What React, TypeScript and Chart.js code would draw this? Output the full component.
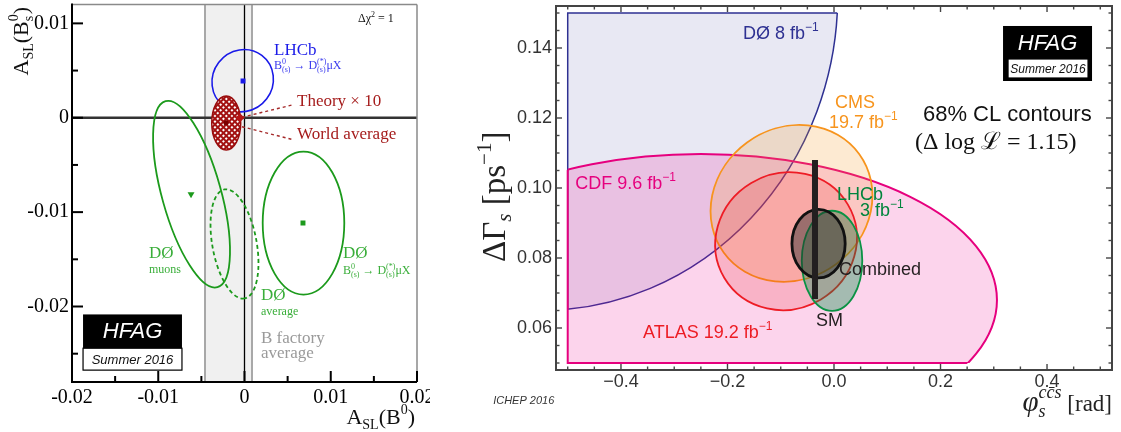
import React, { useEffect, useRef } from "react";
import { Chart, registerables } from "chart.js";

Chart.register(...registerables);

const SERIF = "'Liberation Serif', 'Times New Roman', 'DejaVu Serif', serif";
const SANS = "'Liberation Sans', Arial, Helvetica, sans-serif";

// ---------------- Left panel: A_SL(B0) vs A_SL(Bs) ----------------
const leftXTicks = [-0.02, -0.01, 0, 0.01, 0.02];
const leftXTickLabels = ["-0.02", "-0.01", "0", "0.01", "0.02"];
const leftXMinorTicks = [-0.015, -0.005, 0.005, 0.015];
const leftYTicks = [-0.02, -0.01, 0, 0.01];
const leftYTickLabels = ["-0.02", "-0.01", "0", "0.01"];
const leftYMinorTicks = [-0.025, -0.015, -0.005, 0.005];
const bFactoryBand = [-0.00458, 0.00087];
// contour: [centre x, centre y, half-extent x, half-extent y, correlation]
const lhcbLeftContour = [-0.00021, 0.00393, 0.00356, 0.0033, 0.05];
const d0MuonsContour = [-0.00614, -0.0081, 0.00446, 0.00989, -0.61];
const d0AverageContour = [-0.00116, -0.01337, 0.00278, 0.00579, -0.35];
const d0DmuxContour = [0.00684, -0.01116, 0.00473, 0.00758, 0];
const worldAverageContour = [-0.00212, -0.00055, 0.00168, 0.00286, 0];
const lhcbLeftCentral = [{ x: -0.00017, y: 0.0039 }];
const d0MuonsCentral = [{ x: -0.0062, y: -0.0081 }];
const d0DmuxCentral = [{ x: 0.00678, y: -0.01116 }];
const worldAverageCentral = [{ x: -0.00214, y: -0.00053 }];
const theoryPoint = [{ x: -0.00052, y: 0.0 }];
const theoryLeader = [{ x: -0.0003, y: 0.00005 }, { x: 0.00562, y: 0.00137 }];
const worldAvgLeader = [{ x: -0.0003, y: -0.00095 }, { x: 0.00562, y: -0.00232 }];

// ---------------- Right panel: phi_s vs DeltaGamma_s ----------------
const rightXTicks = [-0.4, -0.2, 0, 0.2, 0.4];
const rightXTickLabels = ["\u22120.4", "\u22120.2", "0.0", "0.2", "0.4"];
const rightXMinorTicks = [-0.5, -0.45, -0.35, -0.3, -0.25, -0.15, -0.1, -0.05, 0.05, 0.1, 0.15, 0.25, 0.3, 0.35, 0.45, 0.5];
const rightYTicks = [0.06, 0.08, 0.1, 0.12, 0.14];
const rightYTickLabels = ["0.06", "0.08", "0.10", "0.12", "0.14"];
const rightYMinorTicks = [0.05, 0.055, 0.065, 0.07, 0.075, 0.085, 0.09, 0.095, 0.105, 0.11, 0.115, 0.125, 0.13, 0.135, 0.145, 0.15];
const plotWindow = [-0.5, 0.5, 0.05, 0.15];
const d0Contour = [-0.55, 0.155, 0.557, 0.09, 0];
const cdfContour = [-0.25, 0.068, 0.556, 0.0417, 0];
const cmsContour = [-0.0798, 0.0956, 0.152, 0.0224, 0.1];
const atlasContour = [-0.09, 0.0848, 0.133, 0.0197, 0.05];
const lhcbContour = [-0.0037, 0.0792, 0.0568, 0.0143, 0];
const combinedContour = [-0.029, 0.0841, 0.05, 0.0098, 0];
const smPrediction = [{ x: -0.0357, y: 0.0683 }, { x: -0.0357, y: 0.108 }];

// ---------------- helpers ----------------
type Seg = { t: string; size: number; dy?: number; style?: string; family?: string; stack?: boolean };

function segFont(s: Seg, fam: string) {
  return `${s.style ?? ""} ${s.size}px ${s.family ?? fam}`.trim();
}
function richWidth(ctx: CanvasRenderingContext2D, segs: Seg[], fam: string) {
  let w = 0, prevStart = 0, prevW = 0;
  for (const s of segs) {
    ctx.font = segFont(s, fam);
    const sw = ctx.measureText(s.t).width;
    if (s.stack) {
      const adv = Math.max(prevW, sw);
      w = prevStart + adv;
      prevW = adv;
    } else {
      prevStart = w;
      prevW = sw;
      w += sw;
    }
  }
  return w;
}
function drawRich(ctx: CanvasRenderingContext2D, x: number, y: number, segs: Seg[], color: string, fam: string, align = "left") {
  const total = richWidth(ctx, segs, fam);
  const x0 = align === "right" ? x - total : align === "center" ? x - total / 2 : x;
  let w = 0, prevStart = 0, prevW = 0;
  ctx.fillStyle = color;
  ctx.textAlign = "left";
  ctx.textBaseline = "alphabetic";
  for (const s of segs) {
    ctx.font = segFont(s, fam);
    const sw = ctx.measureText(s.t).width;
    if (s.stack) {
      ctx.fillText(s.t, x0 + prevStart, y + (s.dy ?? 0));
      const adv = Math.max(prevW, sw);
      w = prevStart + adv;
      prevW = adv;
    } else {
      ctx.fillText(s.t, x0 + w, y + (s.dy ?? 0));
      prevStart = w;
      prevW = sw;
      w += sw;
    }
  }
}
function txt(ctx: CanvasRenderingContext2D, s: string, x: number, y: number, font: string, color: string, align: CanvasTextAlign = "left") {
  ctx.font = font;
  ctx.fillStyle = color;
  ctx.textAlign = align;
  ctx.textBaseline = "middle";
  ctx.fillText(s, x, y);
}
function seg(ctx: CanvasRenderingContext2D, x1: number, y1: number, x2: number, y2: number) {
  ctx.beginPath();
  ctx.moveTo(x1, y1);
  ctx.lineTo(x2, y2);
  ctx.stroke();
}
function ellipsePath(ctx: CanvasRenderingContext2D, chart: any, e: number[]) {
  const xs = chart.scales.x, ys = chart.scales.y;
  const [cx, cy, sx, sy, rho] = e;
  const px = xs.getPixelForValue(cx), py = ys.getPixelForValue(cy);
  const Sx = Math.abs(xs.getPixelForValue(cx + sx) - px);
  const Sy = Math.abs(ys.getPixelForValue(cy + sy) - py);
  const a = Sx * Sx, c = Sy * Sy, b = -rho * Sx * Sy;
  const m = (a + c) / 2, d = Math.sqrt(((a - c) / 2) ** 2 + b * b);
  const l1 = m + d, l2 = Math.max(m - d, 0.01);
  const th = 0.5 * Math.atan2(2 * b, a - c);
  ctx.beginPath();
  ctx.ellipse(px, py, Math.sqrt(l1), Math.sqrt(l2), th, 0, Math.PI * 2);
}
function windowRect(chart: any, w: number[]) {
  const xs = chart.scales.x, ys = chart.scales.y;
  const x1 = xs.getPixelForValue(w[0]), x2 = xs.getPixelForValue(w[1]);
  const y1 = ys.getPixelForValue(w[3]), y2 = ys.getPixelForValue(w[2]);
  return [x1, y1, x2 - x1, y2 - y1];
}
function clippedRegion(ctx: CanvasRenderingContext2D, chart: any, e: number[], fill: string, stroke: string, lw: number) {
  const r = windowRect(chart, plotWindow);
  ctx.save();
  ctx.beginPath();
  ctx.rect(r[0], r[1], r[2], r[3]);
  ctx.clip();
  ellipsePath(ctx, chart, e);
  ctx.fillStyle = fill;
  ctx.fill();
  ctx.strokeStyle = stroke;
  ctx.lineWidth = lw;
  ctx.stroke();
  ctx.restore();
  ctx.save();
  ellipsePath(ctx, chart, e);
  ctx.clip();
  ctx.beginPath();
  ctx.rect(r[0], r[1], r[2], r[3]);
  ctx.strokeStyle = stroke;
  ctx.lineWidth = lw;
  ctx.stroke();
  ctx.restore();
}
function contour(ctx: CanvasRenderingContext2D, chart: any, e: number[], fill: string | CanvasPattern | null, stroke: string, lw: number, dash: number[] = []) {
  ctx.save();
  ellipsePath(ctx, chart, e);
  if (fill) {
    ctx.fillStyle = fill;
    ctx.fill();
  }
  ctx.setLineDash(dash);
  ctx.strokeStyle = stroke;
  ctx.lineWidth = lw;
  ctx.stroke();
  ctx.restore();
}
function hatchPattern(ctx: CanvasRenderingContext2D) {
  const c = document.createElement("canvas");
  c.width = 4;
  c.height = 4;
  const g = c.getContext("2d")!;
  g.fillStyle = "#a31212";
  g.fillRect(0, 0, 4, 4);
  g.fillStyle = "#ffffff";
  g.fillRect(1, 1, 2, 2);
  const p = ctx.createPattern(c, "repeat")!;
  try {
    p.setTransform(new DOMMatrix().rotateSelf(45));
  } catch (e) {}
  return p;
}
function hfagBox(ctx: CanvasRenderingContext2D, x1: number, x2: number, yTop: number, yMid: number, yBot: number, ix1: number, ix2: number, iy1: number, iy2: number, big: number, small: number) {
  ctx.save();
  ctx.fillStyle = "#000";
  ctx.fillRect(x1, yTop, x2 - x1, yBot - yTop);
  ctx.fillStyle = "#fff";
  ctx.fillRect(ix1, iy1, ix2 - ix1, iy2 - iy1);
  ctx.strokeStyle = "#000";
  ctx.lineWidth = 1.2;
  ctx.strokeRect(ix1, iy1, ix2 - ix1, iy2 - iy1);
  txt(ctx, "HFAG", (x1 + x2) / 2, (yTop + yMid) / 2 + 1, `italic ${big}px ${SANS}`, "#fff", "center");
  txt(ctx, "Summer 2016", (ix1 + ix2) / 2, (iy1 + iy2) / 2 + 1, `italic ${small}px ${SANS}`, "#111", "center");
  ctx.restore();
}

function fixAxis(size: number, horizontal: boolean) {
  return (s: any) => {
    if (horizontal) s.height = size;
    else s.width = size;
    s.paddingLeft = 0;
    s.paddingRight = 0;
    s.paddingTop = 0;
    s.paddingBottom = 0;
  };
}

// ---------------- Left chart ----------------
const leftPlugin = {
  id: "leftPanel",
  beforeDatasetsDraw(chart: any) {
    const { ctx, chartArea: ca } = chart;
    const X = (v: number) => chart.scales.x.getPixelForValue(v);
    const Y = (v: number) => chart.scales.y.getPixelForValue(v);
    ctx.save();
    ctx.beginPath();
    ctx.rect(ca.left, ca.top, ca.right - ca.left, ca.bottom - ca.top);
    ctx.clip();
    // B factory band
    const b0 = X(bFactoryBand[0]), b1 = X(bFactoryBand[1]);
    ctx.fillStyle = "#f0f0f0";
    ctx.fillRect(b0, ca.top, b1 - b0, ca.bottom - ca.top);
    ctx.strokeStyle = "#a8a8a8";
    ctx.lineWidth = 2;
    seg(ctx, b0, ca.top, b0, ca.bottom);
    seg(ctx, b1, ca.top, b1, ca.bottom);
    // zero lines
    ctx.strokeStyle = "#000";
    ctx.lineWidth = 1.3;
    seg(ctx, X(0), ca.top, X(0), ca.bottom);
    ctx.strokeStyle = "#333";
    ctx.lineWidth = 2.5;
    seg(ctx, ca.left, Y(0), ca.right, Y(0));
    // contours
    contour(ctx, chart, lhcbLeftContour, null, "#1a1ae8", 1.6);
    contour(ctx, chart, d0MuonsContour, null, "#1c9a1c", 1.8);
    contour(ctx, chart, d0AverageContour, null, "#1c9a1c", 1.8, [4, 3]);
    contour(ctx, chart, d0DmuxContour, null, "#1c9a1c", 1.8);
    if (!chart.$hatch) chart.$hatch = hatchPattern(ctx);
    contour(ctx, chart, worldAverageContour, chart.$hatch, "#990d0d", 1.5);
    ctx.restore();
  },
  afterDraw(chart: any) {
    const { ctx, chartArea: ca } = chart;
    const X = (v: number) => chart.scales.x.getPixelForValue(v);
    const Y = (v: number) => chart.scales.y.getPixelForValue(v);
    ctx.save();
    // frame
    ctx.strokeStyle = "#8a8a8a";
    ctx.lineWidth = 1.5;
    seg(ctx, ca.left, ca.top, ca.right, ca.top);
    seg(ctx, ca.right, ca.top, ca.right, ca.bottom);
    ctx.strokeStyle = "#000";
    ctx.lineWidth = 2;
    seg(ctx, ca.left, ca.top - 1, ca.left, ca.bottom + 1);
    seg(ctx, ca.left - 1, ca.bottom, ca.right, ca.bottom);
    for (const v of leftXTicks) seg(ctx, X(v), ca.bottom, X(v), ca.bottom - 11);
    for (const v of leftXMinorTicks) seg(ctx, X(v), ca.bottom, X(v), ca.bottom - 6);
    for (const v of leftYTicks) seg(ctx, ca.left, Y(v), ca.left + 11, Y(v));
    for (const v of leftYMinorTicks) seg(ctx, ca.left, Y(v), ca.left + 6, Y(v));

    // annotations
    drawRich(ctx, X(0.01316), Y(0.01053) + 4, [
      { t: "\u0394\u03c7", size: 12 },
      { t: "2", size: 8, dy: -5 },
      { t: " = 1", size: 12 },
    ], "#111", SERIF);
    txt(ctx, "LHCb", X(0.00342), Y(0.00716), `17px ${SERIF}`, "#1a1ae8");
    const sub: Seg[] = [
      { t: "B", size: 12 },
      { t: "0", size: 8, dy: -5 },
      { t: "(s)", size: 8, dy: 3, stack: true },
      { t: " \u2192 D", size: 12 },
      { t: "(*)", size: 8, dy: -5 },
      { t: "(s)", size: 8, dy: 3, stack: true },
      { t: "\u03bcX", size: 12 },
    ];
    drawRich(ctx, X(0.00342), Y(0.00558) + 4, sub, "#3a3aee", SERIF);
    txt(ctx, "Theory \u00d7 10", X(0.00609), Y(0.00168), `17px ${SERIF}`, "#a51c1c");
    txt(ctx, "World average", X(0.00609), Y(-0.00179), `17px ${SERIF}`, "#a51c1c");
    const green = "#3aae3a";
    txt(ctx, "D\u00d8", X(-0.01107), Y(-0.01442), `17px ${SERIF}`, green);
    txt(ctx, "muons", X(-0.01107), Y(-0.0161), `12px ${SERIF}`, green);
    txt(ctx, "D\u00d8", X(0.01142), Y(-0.01442), `17px ${SERIF}`, green);
    drawRich(ctx, X(0.01142), Y(-0.0161) + 4, sub, green, SERIF);
    txt(ctx, "D\u00d8", X(0.00191), Y(-0.01884), `17px ${SERIF}`, green);
    txt(ctx, "average", X(0.00191), Y(-0.02053), `12px ${SERIF}`, green);
    txt(ctx, "B factory", X(0.00191), Y(-0.02337), `17px ${SERIF}`, "#9a9a9a");
    txt(ctx, "average", X(0.00191), Y(-0.02495), `17px ${SERIF}`, "#9a9a9a");

    hfagBox(ctx, X(-0.01872), X(-0.00725), Y(-0.02084), Y(-0.02442), Y(-0.02674),
      X(-0.01872), X(-0.00725), Y(-0.02442), Y(-0.02674), 22, 13);

    // axis titles
    ctx.save();
    ctx.translate(ca.left - 44, ca.top + 71);
    ctx.rotate(-Math.PI / 2);
    drawRich(ctx, 0, 0, [
      { t: "A", size: 22 },
      { t: "SL", size: 14, dy: 5 },
      { t: "(B", size: 22 },
      { t: "0", size: 14, dy: -10 },
      { t: "s", size: 14, dy: 5, stack: true },
      { t: ")", size: 22 },
    ], "#111", SERIF);
    ctx.restore();
    drawRich(ctx, ca.right - 2, ca.bottom + 42, [
      { t: "A", size: 22 },
      { t: "SL", size: 14, dy: 5 },
      { t: "(B", size: 22 },
      { t: "0", size: 14, dy: -10 },
      { t: ")", size: 22 },
    ], "#111", SERIF, "right");
    ctx.restore();
  },
};

function leftConfig(): any {
  return {
    type: "scatter",
    data: {
      datasets: [
        { data: lhcbLeftCentral, pointStyle: "rect", pointRadius: 3.5, backgroundColor: "#1a1ae8", borderColor: "#1a1ae8", borderWidth: 0 },
        { data: d0MuonsCentral, pointStyle: "triangle", rotation: 180, pointRadius: 4, backgroundColor: "#1c9a1c", borderColor: "#1c9a1c", borderWidth: 0 },
        { data: d0DmuxCentral, pointStyle: "rect", pointRadius: 3.5, backgroundColor: "#1c9a1c", borderColor: "#1c9a1c", borderWidth: 0 },
        { data: worldAverageCentral, pointStyle: "circle", pointRadius: 2.6, backgroundColor: "#7a0000", borderColor: "#7a0000", borderWidth: 0 },
        { data: theoryPoint, pointStyle: "rectRot", pointRadius: 4.5, backgroundColor: "#b51515", borderColor: "#b51515", borderWidth: 0 },
        { data: theoryLeader, showLine: true, pointRadius: 0, borderColor: "#a52a2a", borderWidth: 1.4, borderDash: [3, 3] },
        { data: worldAvgLeader, showLine: true, pointRadius: 0, borderColor: "#a52a2a", borderWidth: 1.4, borderDash: [3, 3] },
      ],
    },
    options: {
      responsive: false,
      animation: false,
      layout: { padding: { left: 0, top: 2, right: 13, bottom: 0 } },
      plugins: { legend: { display: false }, tooltip: { enabled: false }, title: { display: false } },
      scales: {
        x: {
          type: "linear",
          min: -0.02,
          max: 0.02,
          grid: { display: false, drawTicks: false },
          border: { display: false },
          afterBuildTicks: (s: any) => { s.ticks = leftXTicks.map((v) => ({ value: v })); },
          afterFit: fixAxis(50, true),
          ticks: {
            autoSkip: false,
            maxRotation: 0,
            padding: 4,
            color: "#000",
            font: { family: SERIF, size: 20 },
            callback: (_v: any, i: number) => leftXTickLabels[i],
          },
        },
        y: {
          type: "linear",
          min: -0.028,
          max: 0.012,
          grid: { display: false, drawTicks: false },
          border: { display: false },
          afterBuildTicks: (s: any) => { s.ticks = leftYTicks.map((v) => ({ value: v })); },
          afterFit: fixAxis(72, false),
          ticks: {
            autoSkip: false,
            padding: 3,
            color: "#000",
            font: { family: SERIF, size: 20 },
            callback: (_v: any, i: number) => leftYTickLabels[i],
          },
        },
      },
    },
    plugins: [leftPlugin],
  };
}

// ---------------- Right chart ----------------
const rightPlugin = {
  id: "rightPanel",
  beforeDatasetsDraw(chart: any) {
    const { ctx, chartArea: ca } = chart;
    ctx.save();
    ctx.beginPath();
    ctx.rect(ca.left, ca.top, ca.right - ca.left, ca.bottom - ca.top);
    ctx.clip();
    clippedRegion(ctx, chart, d0Contour, "rgba(46,49,146,0.11)", "#2e3192", 1.5);
    clippedRegion(ctx, chart, cdfContour, "rgba(236,0,140,0.17)", "#e6007e", 2);
    contour(ctx, chart, cmsContour, "rgba(247,148,29,0.2)", "#f7941d", 1.8);
    contour(ctx, chart, atlasContour, "rgba(237,28,36,0.18)", "#ee1c25", 1.8);
    contour(ctx, chart, lhcbContour, "rgba(0,140,70,0.35)", "#0a9244", 1.8);
    contour(ctx, chart, combinedContour, "rgba(40,40,40,0.45)", "#111", 2.8);
    ctx.restore();
  },
  afterDraw(chart: any) {
    const { ctx, chartArea: ca } = chart;
    const X = (v: number) => chart.scales.x.getPixelForValue(v);
    const Y = (v: number) => chart.scales.y.getPixelForValue(v);
    ctx.save();
    ctx.strokeStyle = "#444";
    ctx.lineWidth = 2;
    ctx.strokeRect(ca.left, ca.top, ca.right - ca.left, ca.bottom - ca.top);
    ctx.lineWidth = 1.4;
    for (const v of rightXTicks) {
      seg(ctx, X(v), ca.bottom, X(v), ca.bottom - 6);
      seg(ctx, X(v), ca.top, X(v), ca.top + 6);
    }
    for (const v of rightXMinorTicks) {
      seg(ctx, X(v), ca.bottom, X(v), ca.bottom - 3.5);
      seg(ctx, X(v), ca.top, X(v), ca.top + 3.5);
    }
    for (const v of rightYTicks) {
      seg(ctx, ca.left, Y(v), ca.left + 6, Y(v));
      seg(ctx, ca.right, Y(v), ca.right - 6, Y(v));
    }
    for (const v of rightYMinorTicks) {
      seg(ctx, ca.left, Y(v), ca.left + 3.5, Y(v));
      seg(ctx, ca.right, Y(v), ca.right - 3.5, Y(v));
    }

    const inv = (s: string, size: number): Seg[] => [
      { t: s, size },
      { t: "\u22121", size: Math.round(size * 0.68), dy: -Math.round(size * 0.42) },
    ];
    drawRich(ctx, X(-0.171), Y(0.1443) + 6, inv("D\u00d8 8 fb", 18), "#2e3192", SANS);
    drawRich(ctx, X(-0.486), Y(0.1014) + 6, inv("CDF 9.6 fb", 18), "#e6007e", SANS);
    txt(ctx, "CMS", X(0.002), Y(0.1243), `18px ${SANS}`, "#f7941d");
    drawRich(ctx, X(-0.0094), Y(0.1189) + 6, inv("19.7 fb", 18), "#f7941d", SANS);
    txt(ctx, "68% CL contours", X(0.167), Y(0.1209), `22px ${SANS}`, "#111");
    txt(ctx, "(\u0394 log \u2112 = 1.15)", X(0.152), Y(0.1129), `24px ${SERIF}`, "#111");
    txt(ctx, "LHCb", X(0.0056), Y(0.0981), `18px ${SANS}`, "#00843d");
    drawRich(ctx, X(0.0488), Y(0.0937) + 6, inv("3 fb", 18), "#00843d", SANS);
    txt(ctx, "Combined", X(0.0094), Y(0.0766), `18px ${SANS}`, "#231f20");
    txt(ctx, "SM", X(-0.0338), Y(0.062), `18px ${SANS}`, "#231f20");
    drawRich(ctx, X(-0.3587), Y(0.0589) + 6, inv("ATLAS 19.2 fb", 18), "#ed1c24", SANS);
    txt(ctx, "ICHEP 2016", X(-0.64), Y(0.0391), `italic 11px ${SANS}`, "#333");

    hfagBox(ctx, X(0.3174), X(0.4845), Y(0.14629), Y(0.13686), Y(0.13057),
      X(0.3268), X(0.477), Y(0.13686), Y(0.13143), 22, 12);

    // axis titles
    ctx.save();
    ctx.translate(ca.left - 51, ca.bottom - 108);
    ctx.rotate(-Math.PI / 2);
    drawRich(ctx, 0, 0, [
      { t: "\u0394\u0393", size: 33 },
      { t: "s", size: 21, style: "italic", dy: 6 },
      { t: " [ps", size: 33 },
      { t: "\u22121", size: 21, dy: -14 },
      { t: "]", size: 33 },
    ], "#222", SERIF);
    ctx.restore();
    drawRich(ctx, ca.right, ca.bottom + 41, [
      { t: "\u03c6", size: 29, style: "italic" },
      { t: "s", size: 18, style: "italic", dy: 6 },
      { t: "cc\u0304s", size: 18, style: "italic", dy: -13, stack: true },
      { t: " [rad]", size: 23 },
    ], "#222", SERIF, "right");
    ctx.restore();
  },
};

function rightConfig(): any {
  return {
    type: "scatter",
    data: {
      datasets: [
        { data: smPrediction, showLine: true, pointRadius: 0, borderColor: "#231f20", borderWidth: 6, borderCapStyle: "butt" },
      ],
    },
    options: {
      responsive: false,
      animation: false,
      layout: { padding: { left: 0, top: 6, right: 9, bottom: 0 } },
      plugins: { legend: { display: false }, tooltip: { enabled: false }, title: { display: false } },
      scales: {
        x: {
          type: "linear",
          min: -0.522,
          max: 0.522,
          grid: { display: false, drawTicks: false },
          border: { display: false },
          afterBuildTicks: (s: any) => { s.ticks = rightXTicks.map((v) => ({ value: v })); },
          afterFit: fixAxis(62, true),
          ticks: {
            autoSkip: false,
            maxRotation: 0,
            padding: 1,
            color: "#333",
            font: { family: SANS, size: 18 },
            callback: (_v: any, i: number) => rightXTickLabels[i],
          },
        },
        y: {
          type: "linear",
          min: 0.048,
          max: 0.152,
          grid: { display: false, drawTicks: false },
          border: { display: false },
          afterBuildTicks: (s: any) => { s.ticks = rightYTicks.map((v) => ({ value: v })); },
          afterFit: fixAxis(126, false),
          ticks: {
            autoSkip: false,
            padding: 4,
            color: "#333",
            font: { family: SANS, size: 18 },
            callback: (_v: any, i: number) => rightYTickLabels[i],
          },
        },
      },
    },
    plugins: [rightPlugin],
  };
}

function ChartCanvas({ config, width, height, left }: { config: () => any; width: number; height: number; left: number }) {
  const ref = useRef<HTMLCanvasElement>(null);
  useEffect(() => {
    const chart = new Chart(ref.current!, config());
    return () => chart.destroy();
  }, []);
  return (
    <canvas
      ref={ref}
      width={width}
      height={height}
      style={{ position: "absolute", left, top: 0, width, height }}
    />
  );
}

export default function App() {
  return (
    <div style={{ position: "fixed", left: 0, top: 0, width: 1121, height: 432, background: "#fff", overflow: "hidden" }}>
      <ChartCanvas config={leftConfig} width={430} height={432} left={0} />
      <ChartCanvas config={rightConfig} width={691} height={432} left={430} />
    </div>
  );
}
